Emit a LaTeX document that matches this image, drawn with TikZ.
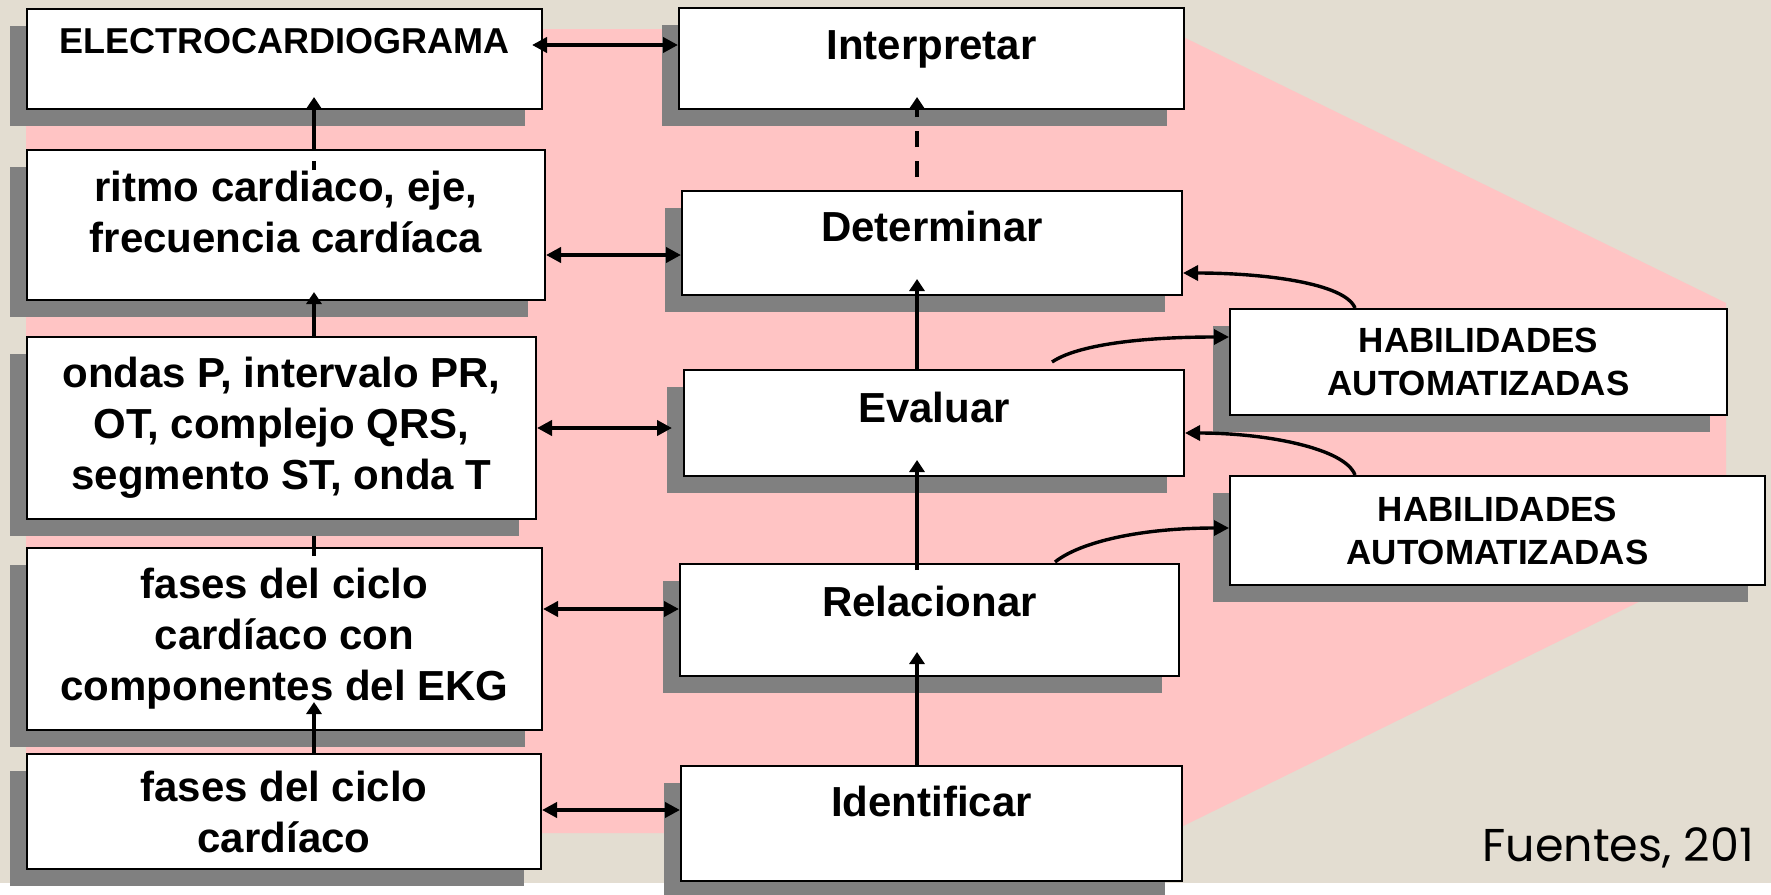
\documentclass[tikz,border=0pt]{standalone}
\usepackage{fontspec}
\setmainfont{Liberation Sans}
\newfontfamily\gotica{Poppins}
\usetikzlibrary{arrows.meta,shadows}
\definecolor{fondo}{RGB}{227,221,209}
\definecolor{rosa}{RGB}{255,196,196}
\definecolor{sombra}{RGB}{128,128,128}
\tikzset{
  caja/.style         = {draw=black, line width=1pt, fill=white, inner sep=0pt, align=center,
                         anchor=north west, font=\bfseries\fontsize{21pt}{25.5pt}\selectfont,
                         drop shadow={shadow xshift=-8.5pt, shadow yshift=-8.5pt, opacity=1, fill=sombra}},
  tam/.style 2 args   = {minimum width=#1*0.5pt, minimum height=#2*0.5pt},
  arriba/.style 2 args= {text height=#1*0.5pt, text depth=#2*0.5pt},
  habil/.style        = {font=\bfseries\fontsize{17.5pt}{21.5pt}\selectfont},
  flecha/.style       = {line width=1.7pt, -{Triangle[length=6pt,width=7.5pt]}},
  flechadoble/.style  = {line width=2pt, {Triangle[length=7.5pt,width=7.5pt]}-{Triangle[length=7.5pt,width=7.5pt]}},
  curva/.style        = {line width=1.7pt, -{Triangle[length=7.5pt,width=7.5pt]}},
}
\begin{document}
\begin{tikzpicture}[x=0.5pt, y=-0.5pt]
    \useasboundingbox (0,0) rectangle (1771,894);
    \fill[white] (0,0) rectangle (1771,894);
    \fill[fondo] (0,0) rectangle (1771,883);
    \fill[rosa] (26,29) -- (1167,29) -- (1726,303) -- (1726,559) -- (1169,833) -- (26,833) -- cycle;
    \coordinate (ejeI) at (314,0);
    \coordinate (ejeM) at (917,0);

    % columna izquierda
    \node[caja, tam={515}{100}, arriba={45}{55}, font=\bfseries\fontsize{18pt}{21pt}\selectfont] (elec) at (26,8) {ELECTROCARDIOGRAMA};
    \node[caja, tam={518}{150}, arriba={102}{48}] (ritmo) at (26,149) {\begin{tabular}[b]{@{}c@{}}ritmo cardiaco, eje,\\frecuencia cardíaca\end{tabular}};
    \node[caja, tam={509}{182}] (ondas) at (26,336) {ondas P, intervalo PR,\\OT, complejo QRS,\\segmento ST, onda T};
    \node[caja, tam={515}{182}] (fasesekg) at (26,547) {fases del ciclo\\cardíaco con\\componentes del EKG};
    \node[caja, tam={514}{115}] (fases) at (26,753) {fases del ciclo\\cardíaco};

    % columna central
    \node[caja, tam={505}{101}, arriba={51}{50}] (interp) at (678,7) {Interpretar};
    \node[caja, tam={500}{104}, arriba={50}{54}] (determ) at (681,190) {Determinar};
    \node[caja, tam={500}{106}, arriba={52}{54}] (eval) at (683,369) {Evaluar};
    \node[caja, tam={499}{112}, arriba={52}{60}] (relac) at (679,563) {Relacionar};
    \node[caja, tam={501}{115}, arriba={50}{65}] (ident) at (680,765) {Identificar};

    % habilidades
    \node[caja, habil, tam={497}{106}] (hab1) at (1229,308) {HABILIDADES\\AUTOMATIZADAS};
    \node[caja, habil, tam={535}{109}] (hab2) at (1229,475) {HABILIDADES\\AUTOMATIZADAS};

    \node[font=\gotica\fontsize{23pt}{27pt}\selectfont, anchor=base west, inner sep=0pt] (fuente) at (1482,861) {Fuentes, 201};

    % flechas verticales
    \draw[flecha, dash pattern={on 4.5pt off 6pt on 200pt off 1pt}, shorten <=-10.5pt, shorten >=-6.5pt] (ritmo.north -| ejeI) -- (elec.south -| ejeI);
    \draw[flecha, shorten >=-4.5pt] (ondas.north -| ejeI) -- (ritmo.south -| ejeI);
    \draw[line width=1.7pt, shorten <=-4.5pt, shorten >=8pt] (fasesekg.north -| ejeI) -- (ondas.south -| ejeI);
    \draw[flecha, shorten >=-14.5pt] (fases.north -| ejeI) -- (fasesekg.south -| ejeI);
    \draw[flecha, dash pattern={on 8pt off 7pt}, dash phase=8.5pt, shorten >=-6.5pt] (determ.north -| ejeM) -- (interp.south -| ejeM);
    \draw[flecha, shorten >=-8.5pt] (eval.north -| ejeM) -- (determ.south -| ejeM);
    \draw[flecha, shorten <=-3.5pt, shorten >=-8.5pt] (relac.north -| ejeM) -- (eval.south -| ejeM);
    \draw[flecha, shorten >=-12.5pt] (ident.north -| ejeM) -- (relac.south -| ejeM);

    % flechas horizontales
    \draw[flechadoble, shorten <=-5.5pt] ([yshift=7pt]elec.east) -- ([yshift=6.75pt]interp.west);
    \draw[flechadoble] ([yshift=-15pt]ritmo.east) -- ([yshift=-6pt]determ.west);
    \draw[flechadoble, shorten >=5.5pt] (ondas.east) -- ([yshift=-2.5pt]eval.west);
    \draw[flechadoble] ([yshift=15pt]fasesekg.east) -- ([yshift=5.5pt]relac.west);
    \draw[flechadoble] ([yshift=0.75pt]fases.east) -- ([yshift=6.75pt]ident.west);

    % flechas curvas
    \draw[curva] ([xshift=-66.5pt, yshift=3.5pt]eval.north east) .. controls +(25,-17) and +(-89,0) .. ([yshift=12.5pt]hab1.west);
    \draw[curva] ([xshift=63pt]hab1.north west) .. controls +(-10,-25) and +(80,0) .. ([yshift=-15pt]determ.east);
    \draw[curva] ([xshift=63pt]hab2.north west) .. controls +(-10,-27) and +(80,0) .. ([yshift=-5pt]eval.east);
    \draw[curva] ([xshift=-62.5pt, yshift=0.5pt]relac.north east) .. controls +(25,-20) and +(-89,0) .. ([yshift=1.25pt]hab2.west);
\end{tikzpicture}
\end{document}
